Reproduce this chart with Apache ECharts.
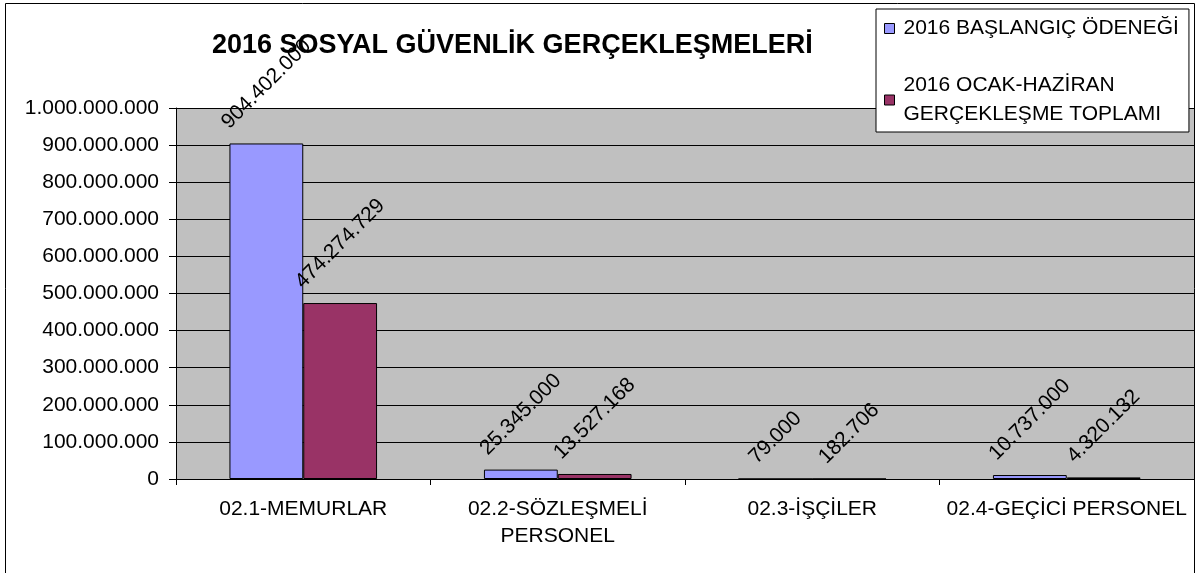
<!DOCTYPE html>
<html>
<head>
<meta charset="utf-8">
<script src="https://cdn.jsdelivr.net/npm/echarts@6/dist/echarts.min.js"></script>
<style>
html,body{margin:0;padding:0;background:#fff;}
#chart{width:1196px;height:573px;}
</style>
</head>
<body>
<div id="chart"></div>
<script>
// ---- data ----
var categories = ['02.1-MEMURLAR', '02.2-SÖZLEŞMELİ\nPERSONEL', '02.3-İŞÇİLER', '02.4-GEÇİCİ PERSONEL'];
var seriesNames = ['2016 BAŞLANGIÇ ÖDENEĞİ', '2016 OCAK-HAZİRAN\nGERÇEKLEŞME TOPLAMI'];
var baslangicOdenegi = [904402000, 25345000, 79000, 10737000];
var gerceklesmeToplami = [474274729, 13527168, 182706, 4320132];
var titleText = '2016 SOSYAL GÜVENLİK GERÇEKLEŞMELERİ';

var FONT = '"Liberation Sans", Arial, sans-serif';
var FS = 21;

function fmt(v) {
  return String(Math.round(v)).replace(/\B(?=(\d{3})+(?!\d))/g, '.');
}

var mctx = document.createElement('canvas').getContext('2d');
mctx.font = FS + 'px ' + FONT;
function labelled(values) {
  return values.map(function (v) {
    var w = mctx.measureText(fmt(v)).width;
    return {
      value: v,
      label: { distance: 18 + w / 2 * 0.7071 }
    };
  });
}

var chart = echarts.init(document.getElementById('chart'), null, { renderer: 'canvas' });

var labelCfg = {
  show: true,
  position: 'top',
  rotate: 45,
  align: 'center',
  verticalAlign: 'middle',
  color: '#000',
  fontSize: FS,
  fontFamily: FONT,
  formatter: function (p) { return fmt(p.value); }
};

var option = {
  backgroundColor: '#fff',
  animation: false,
  textStyle: { fontFamily: FONT },
  title: {
    text: titleText,
    left: 212,
    top: 32,
    padding: 0,
    textStyle: { fontSize: 27, fontWeight: 'bold', color: '#000', fontFamily: FONT }
  },
  legend: {
    orient: 'vertical',
    left: 876,
    top: 9,
    padding: [5, 10, 3, 8],
    itemGap: 28,
    itemWidth: 10,
    itemHeight: 10,
    icon: 'rect',
    backgroundColor: '#fff',
    borderColor: '#000',
    borderWidth: 1,
    borderRadius: 0,
    textStyle: { fontSize: FS, lineHeight: 29, color: '#000', fontFamily: FONT, padding: [0, 0, 0, 4] },
    data: seriesNames.map(function (n) { return { name: n, itemStyle: { borderColor: '#000', borderWidth: 1 } }; })
  },
  graphic: [{
    type: 'rect',
    shape: { x: 5.5, y: 3.5, width: 1189, height: 580 },
    style: { fill: 'none', stroke: '#000', lineWidth: 1 },
    silent: true,
    z: 100
  }],
  grid: {
    left: 176,
    top: 108,
    right: 2,
    bottom: 94,
    show: true,
    backgroundColor: '#C0C0C0',
    borderWidth: 0
  },
  xAxis: {
    type: 'category',
    data: categories,
    axisLine: { show: true, lineStyle: { color: '#000', width: 1 } },
    axisTick: { show: true, length: 6, lineStyle: { color: '#000' } },
    axisLabel: { color: '#000', fontSize: FS, lineHeight: 27, margin: 17, fontFamily: FONT, interval: 0 },
    splitLine: { show: false }
  },
  yAxis: {
    type: 'value',
    min: 0,
    max: 1000000000,
    interval: 100000000,
    axisLine: { show: true, lineStyle: { color: '#000', width: 1 } },
    axisTick: { show: true, length: 7, lineStyle: { color: '#000' } },
    axisLabel: { color: '#000', fontSize: FS, margin: 17, fontFamily: FONT, formatter: function (v) { return fmt(v); } },
    splitLine: { show: true, lineStyle: { color: '#000', width: 1 } }
  },
  series: [
    {
      name: seriesNames[0],
      type: 'bar',
      data: labelled(baslangicOdenegi),
      barGap: '0%',
      barCategoryGap: '42%',
      itemStyle: { color: '#9999FF', borderColor: '#000', borderWidth: 1 },
      label: labelCfg
    },
    {
      name: seriesNames[1],
      type: 'bar',
      data: labelled(gerceklesmeToplami),
      barGap: '0%',
      barCategoryGap: '42%',
      itemStyle: { color: '#993366', borderColor: '#000', borderWidth: 1 },
      label: labelCfg
    }
  ]
};

chart.setOption(option);
</script>
</body>
</html>
